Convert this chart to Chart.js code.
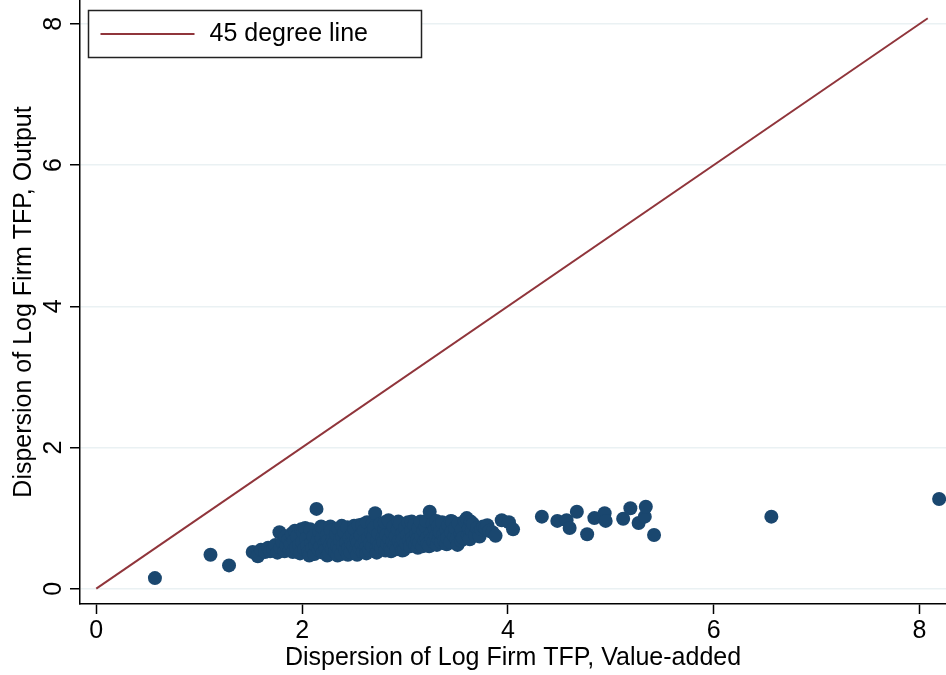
<!DOCTYPE html>
<html><head><meta charset="utf-8">
<script src="https://cdn.jsdelivr.net/npm/chart.js@4.4.1/dist/chart.umd.min.js"></script>
<style>html,body{margin:0;padding:0;background:#fff;} #wrap{width:946px;height:675px;position:relative;}</style>
</head><body><div id="wrap"><canvas id="c" width="946" height="675"></canvas></div>
<script>
const xTicks = [0, 2, 4, 6, 8];
const yTicks = [0, 2, 4, 6, 8];
const xAxisTitle = 'Dispersion of Log Firm TFP, Value-added';
const yAxisTitle = 'Dispersion of Log Firm TFP, Output';
const lineLabel = '45 degree line';
const lineX = [0, 8.08];
const lineY = [0, 8.08];
// [value-added dispersion, output dispersion] per industry
const firmPoints = [
[0.57,0.15],[1.11,0.48],[1.29,0.33],
[1.52,0.52],[1.57,0.46],[1.60,0.55],[1.64,0.52],[1.67,0.58],[1.69,0.53],
[1.72,0.56],[1.74,0.62],[1.76,0.51],[1.78,0.80],[1.79,0.58],[1.81,0.66],[1.83,0.53],[1.84,0.74],[1.85,0.60],[1.87,0.70],[1.88,0.55],[1.89,0.63],
[1.90,0.78],[1.91,0.52],[1.92,0.68],[1.93,0.82],[1.94,0.58],[1.95,0.74],[1.97,0.62],[1.98,0.50],[1.99,0.84],[2.00,0.66],[2.01,0.80],[2.02,0.56],[2.03,0.86],[2.04,0.71],[2.05,0.60],[2.06,0.52],[2.07,0.47],[2.08,0.84],[2.09,0.65],[2.10,0.57],
[2.11,0.74],[2.12,0.49],[2.13,0.62],[2.14,1.13],[2.15,0.68],[2.16,0.55],[2.17,0.80],[2.18,0.60],[2.185,0.88],[2.19,0.72],[2.20,0.51],[2.21,0.86],[2.22,0.64],[2.23,0.56],[2.24,0.76],[2.245,0.47],[2.25,0.68],[2.26,0.50],[2.27,0.61],[2.275,0.88],[2.28,0.82],[2.29,0.57],[2.30,0.70],
[2.31,0.64],[2.32,0.52],[2.33,0.78],[2.34,0.60],[2.345,0.47],[2.35,0.85],[2.36,0.56],[2.37,0.69],[2.38,0.49],[2.385,0.89],[2.39,0.74],[2.40,0.62],[2.41,0.80],[2.42,0.55],[2.43,0.66],[2.44,0.87],[2.445,0.48],[2.45,0.58],[2.46,0.72],[2.47,0.52],[2.48,0.64],[2.49,0.78],
[2.50,0.60],[2.505,0.89],[2.51,0.84],[2.52,0.54],[2.53,0.70],[2.535,0.48],[2.54,0.65],[2.55,0.90],[2.56,0.57],[2.57,0.76],[2.58,0.62],[2.585,0.91],[2.59,0.52],[2.60,0.82],[2.61,0.68],[2.62,0.58],[2.625,0.50],[2.63,0.94],[2.64,0.72],[2.65,0.55],[2.66,0.64],[2.67,0.80],[2.68,0.60],[2.685,0.92],[2.69,0.74],
[2.70,0.86],[2.71,1.07],[2.72,0.56],[2.725,0.51],[2.73,0.68],[2.74,0.78],[2.75,0.62],[2.76,0.92],[2.77,0.58],[2.78,0.72],[2.79,0.66],[2.80,0.84],[2.805,0.94],[2.81,0.54],[2.82,0.76],[2.83,0.63],[2.84,0.97],[2.85,0.70],[2.86,0.58],[2.865,0.53],[2.87,0.80],[2.88,0.66],[2.89,0.88],
[2.90,0.62],[2.91,0.74],[2.92,0.56],[2.93,0.84],[2.935,0.95],[2.94,0.68],[2.95,0.92],[2.96,0.60],[2.97,0.78],[2.975,0.54],[2.98,0.70],[2.99,0.55],[3.00,0.86],[3.01,0.64],[3.02,0.76],[3.03,0.94],[3.04,0.68],[3.05,0.60],[3.06,0.82],[3.065,0.95],[3.07,0.72],[3.08,0.66],[3.09,0.90],
[3.10,0.62],[3.11,0.78],[3.12,0.70],[3.125,0.58],[3.13,0.86],[3.14,0.65],[3.15,0.95],[3.16,0.74],[3.17,0.60],[3.18,0.82],[3.19,0.68],[3.20,0.88],[3.205,0.96],[3.21,0.72],[3.22,0.64],[3.235,0.60],[3.24,1.09],[3.25,0.78],[3.26,0.70],[3.27,0.92],[3.28,0.66],[3.29,0.84],
[3.30,0.74],[3.305,0.96],[3.31,0.62],[3.32,0.88],[3.33,0.70],[3.34,0.80],[3.35,0.66],[3.36,0.94],[3.37,0.76],[3.38,0.68],[3.40,0.84],[3.405,0.63],[3.41,0.72],[3.42,0.90],[3.44,0.66],[3.445,0.96],[3.45,0.80],[3.46,0.95],[3.48,0.74],[3.49,0.86],
[3.50,0.70],[3.51,0.62],[3.52,0.92],[3.54,0.78],[3.545,0.68],[3.55,0.84],[3.56,0.72],[3.58,0.96],[3.60,1.00],[3.61,0.76],[3.62,0.86],[3.63,0.70],[3.64,0.95],[3.65,0.82],[3.66,0.92],[3.68,0.76],[3.70,0.86],[3.72,0.80],[3.725,0.74],[3.74,0.84],[3.76,0.88],[3.78,0.86],[3.80,0.90],
[3.82,0.82],[3.85,0.80],[3.88,0.75],[3.94,0.97],[4.01,0.94],[4.05,0.84],
[4.33,1.02],[4.48,0.96],[4.57,0.97],[4.60,0.86],[4.67,1.09],[4.77,0.77],[4.84,1.00],[4.94,1.07],[4.95,0.96],[5.12,0.99],[5.19,1.14],[5.27,0.93],[5.33,1.02],[5.34,1.16],[5.42,0.76],
[6.56,1.02],[8.19,1.27]
];

const FONT = '"Liberation Sans", Arial, sans-serif';
const NAVY = '#1a476f';
const MAROON = '#90353b';

const boxLegend = {
  id: 'boxLegend',
  afterDraw(chart) {
    const ctx = chart.ctx, a = chart.chartArea;
    const ds = chart.data.datasets[0];
    const bx = a.left + 8.5, by = a.top + 10.5, bw = 333, bh = 47;
    ctx.save();
    ctx.fillStyle = '#fff';
    ctx.fillRect(bx, by, bw, bh);
    ctx.strokeStyle = '#222';
    ctx.lineWidth = 1.5;
    ctx.strokeRect(bx, by, bw, bh);
    ctx.strokeStyle = ds.borderColor;
    ctx.lineWidth = 2;
    ctx.beginPath();
    ctx.moveTo(bx + 12, by + 23.5);
    ctx.lineTo(bx + 106, by + 23.5);
    ctx.stroke();
    ctx.fillStyle = '#000';
    ctx.font = '25px ' + FONT;
    ctx.textBaseline = 'middle';
    ctx.textAlign = 'left';
    ctx.fillText(ds.label, bx + 121, by + 24);
    ctx.restore();
  }
};

new Chart(document.getElementById('c'), {
  type: 'scatter',
  data: {
    datasets: [
      {
        label: lineLabel,
        type: 'line',
        data: lineX.map((v, i) => ({x: v, y: lineY[i]})),
        borderColor: MAROON,
        borderWidth: 2,
        pointRadius: 0,
        fill: false,
        order: 1
      },
      {
        label: 'Industries',
        data: firmPoints.map(p => ({x: p[0], y: p[1]})),
        backgroundColor: NAVY,
        borderColor: NAVY,
        borderWidth: 0,
        pointRadius: 7,
        order: 2
      }
    ]
  },
  options: {
    responsive: false,
    animation: false,
    layout: {padding: 0, autoPadding: false},
    plugins: {legend: {display: false}, tooltip: {enabled: false}},
    scales: {
      x: {
        type: 'linear',
        min: -0.158, max: 8.257,
        afterFit(s) { s.height = 71; s.paddingLeft = 0; s.paddingRight = 0; },
        afterBuildTicks(s) { s.ticks = xTicks.map(v => ({value: v})); },
        grid: {drawOnChartArea: false, tickColor: '#000', tickLength: 10, tickWidth: 1.5},
        border: {color: '#000', width: 1.5},
        ticks: {color: '#000', font: {size: 25, family: FONT}, padding: 2, maxRotation: 0, minRotation: 0},
        title: {display: true, text: xAxisTitle, color: '#000', font: {size: 25, family: FONT}, padding: {top: 0, bottom: 2}}
      },
      y: {
        type: 'linear',
        min: -0.217, max: 8.338,
        afterFit(s) { s.width = 80; s.paddingTop = 0; s.paddingBottom = 0; },
        afterBuildTicks(s) { s.ticks = yTicks.map(v => ({value: v})); },
        grid: {color: '#eaf1f3', lineWidth: 1.5, tickColor: '#000', tickLength: 10, tickWidth: 1.5},
        border: {color: '#000', width: 1.5},
        ticks: {color: '#000', font: {size: 25, family: FONT}, padding: 9, minRotation: 90, maxRotation: 90, crossAlign: 'center'},
        title: {display: true, text: yAxisTitle, color: '#000', font: {size: 25, family: FONT}, padding: {top: 9, bottom: 0}}
      }
    }
  },
  plugins: [boxLegend]
});
</script>
</body></html>
